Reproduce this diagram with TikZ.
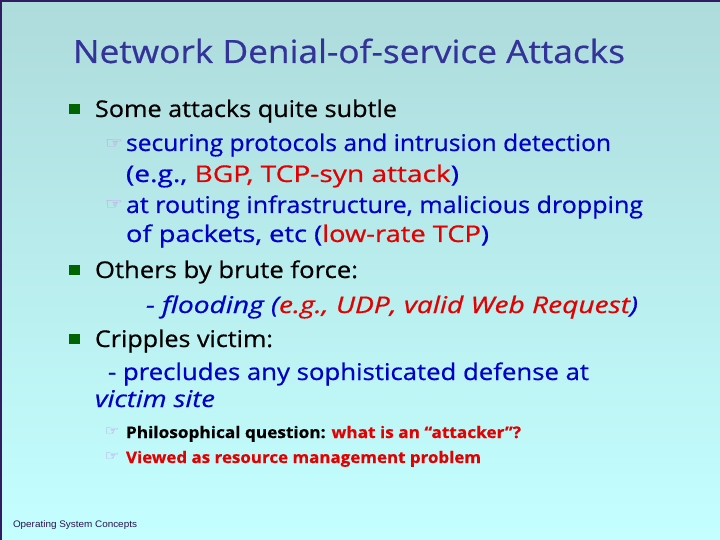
\documentclass[tikz,border=0pt]{standalone}
\usepackage{fontspec}
\usepackage{graphicx}
\setmainfont{Open Sans}[FakeBold=0.6, ItalicFeatures={FakeBold=0.6}]
\newfontfamily\footfont{Liberation Sans}
\newfontfamily\symfont{DejaVu Sans}
\definecolor{bgtop}{RGB}{174,219,220}
\definecolor{bgbot}{RGB}{196,255,255}
\definecolor{framecol}{RGB}{48,28,96}
\definecolor{titlecol}{RGB}{51,51,153}
\definecolor{subblue}{RGB}{0,0,200}
\definecolor{hotred}{RGB}{226,0,0}
\definecolor{bulgreen}{RGB}{0,100,0}
\definecolor{handcol}{RGB}{196,140,226}
\definecolor{footcol}{RGB}{40,20,80}
\newcommand\fitt[2]{\resizebox{#1pt}{\height}{#2}}
\newcommand\bodyfs{\fontsize{23}{27}\selectfont}
\begin{document}
\begin{tikzpicture}[x=1pt,y=-1pt,
  txt/.style={anchor=base west,inner sep=0pt,outer sep=0pt},
  sq/.style={fill=bulgreen,minimum size=10.5pt,inner sep=0pt,outer sep=0pt},
  hand/.style={anchor=center,inner sep=0pt,outer sep=0pt,text=handcol}]
\useasboundingbox (0,0) rectangle (720,540);
\shade[top color=bgtop,bottom color=bgbot] (0,0) rectangle (720,540);
\draw[framecol,line width=2pt] (1,540) -- (1,1) -- (720,1);

\node[txt,text=titlecol] (title) at (73,63) {\fitt{552}{\fontsize{32}{38}\selectfont Network Denial-of-service Attacks}};

\node[sq] (b1) at (74.5,109) {};
\node[txt] (t1) at (95,117) {\fitt{302}{\bodyfs Some attacks quite subtle}};
\node[hand] (h1) at (114,144) {\resizebox{18pt}{9pt}{\symfont ☞}};
\node[txt,text=subblue] (s1a) at (126,151) {\fitt{485}{\bodyfs securing protocols and intrusion detection}};
\node[txt,text=subblue] (s1b) at (126,182) {\fitt{333}{\bodyfs (e.g., \textcolor{hotred}{BGP, TCP-syn attack})}};
\node[hand] (h2) at (114,205) {\resizebox{18pt}{9pt}{\symfont ☞}};
\node[txt,text=subblue] (s2a) at (126,213) {\fitt{517}{\bodyfs at routing infrastructure, malicious dropping}};
\node[txt,text=subblue] (s2b) at (126,242) {\fitt{363}{\bodyfs of packets, etc (\textcolor{hotred}{low-rate TCP})}};

\node[sq] (b2) at (74.5,270) {};
\node[txt] (t2) at (95,278) {\fitt{263}{\bodyfs Others by brute force:}};
\node[txt,text=subblue] (f1) at (146,313) {\fitt{492}{\bodyfs\itshape - flooding (\textcolor{hotred}{e.g., UDP, valid Web Request})}};

\node[sq] (b3) at (74.5,339) {};
\node[txt] (t3) at (95,347) {\fitt{178}{\bodyfs Cripples victim:}};
\node[txt,text=subblue] (p1) at (108,380) {\fitt{481}{\bodyfs - precludes any sophisticated defense at}};
\node[txt,text=subblue] (p2) at (95,407) {\fitt{120}{\bodyfs\itshape victim site}};

\node[hand] (h3) at (112,432) {\resizebox{15pt}{7.5pt}{\symfont ☞}};
\node[txt] (q1) at (126,438) {\fitt{395}{\fontsize{16}{19}\selectfont\bfseries Philosophical question: \textcolor{hotred}{what is an “attacker”?}}};
\node[hand] (h4) at (112,457) {\resizebox{15pt}{7.5pt}{\symfont ☞}};
\node[txt,text=hotred] (q2) at (126,463) {\fitt{355}{\fontsize{16}{19}\selectfont\bfseries Viewed as resource management problem}};

\node[txt,text=footcol] (foot) at (13,527) {\fitt{124}{\footfont\fontsize{9.5}{11}\selectfont Operating System Concepts}};
\end{tikzpicture}
\end{document}
